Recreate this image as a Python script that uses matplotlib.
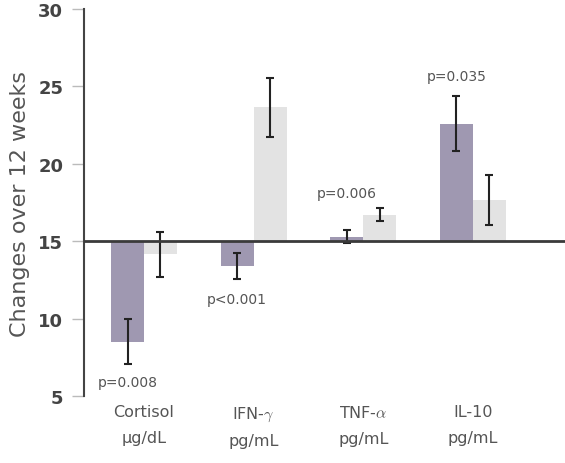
import numpy as np
import matplotlib
matplotlib.use("Agg")
import matplotlib.pyplot as plt

# dados
categorias = ["Cortisol\nμg/dL", "IFN-$\\gamma$\npg/mL", "TNF-$\\alpha$\npg/mL", "IL-10\npg/mL"]
grupo_a = [8.5, 13.4, 15.3, 22.6]
erro_a = [1.45, 0.85, 0.4, 1.75]
grupo_b = [14.15, 23.65, 16.7, 17.65]
erro_b = [1.43, 1.9, 0.42, 1.6]
p_valores = ["p=0.008", "p<0.001", "p=0.006", "p=0.035"]
p_y = [5.9, 11.25, 18.1, 25.65]
base = 15

plt.rcParams["font.family"] = ["DejaVu Sans"]
plt.rcParams["mathtext.fontset"] = "cm"

fig = plt.figure(figsize=(5.65, 4.64), dpi=100)
ax = fig.add_axes([0.1487, 0.1444, 0.8513, 0.8340])

x = np.arange(len(categorias))
w = 0.3
cor_a = "#9f98b1"
cor_b = "#e3e3e3"

ax.bar(x - w / 2, np.array(grupo_a) - base, w, bottom=base, color=cor_a, zorder=2)
ax.bar(x + w / 2, np.array(grupo_b) - base, w, bottom=base, color=cor_b, zorder=2)
ax.errorbar(x - w / 2, grupo_a, yerr=erro_a, fmt="none", ecolor="#222222",
            elinewidth=1.5, capsize=3, capthick=1.5, zorder=3)
ax.errorbar(x + w / 2, grupo_b, yerr=erro_b, fmt="none", ecolor="#222222",
            elinewidth=1.5, capsize=3, capthick=1.5, zorder=3)

ax.axhline(base, color="#3a3a3a", lw=2, zorder=4)

for xi, txt, yi in zip(x - w / 2, p_valores, p_y):
    ax.text(xi, yi, txt, ha="center", va="center", fontsize=10, color="#555555")

ax.set_xlim(-0.547, 3.84)
ax.set_ylim(5, 30)
ax.set_yticks([5, 10, 15, 20, 25, 30])
ax.set_xticks(x)
ax.set_xticklabels(categorias, fontsize=11.5, color="#555555", linespacing=1.85)
ax.tick_params(axis="x", length=0, pad=6)
ax.tick_params(axis="y", length=9, color="#bbbbbb", width=1, pad=6,
               labelsize=13, labelcolor="#444444")
for lbl in ax.get_yticklabels():
    lbl.set_fontweight("bold")

for lado in ["top", "right", "bottom"]:
    ax.spines[lado].set_visible(False)
ax.spines["left"].set_color("#444444")
ax.spines["left"].set_linewidth(1.5)

ax.set_ylabel("Changes over 12 weeks", fontsize=16, color="#555555", labelpad=6)

plt.savefig("out.png", dpi=100)
plt.close()
